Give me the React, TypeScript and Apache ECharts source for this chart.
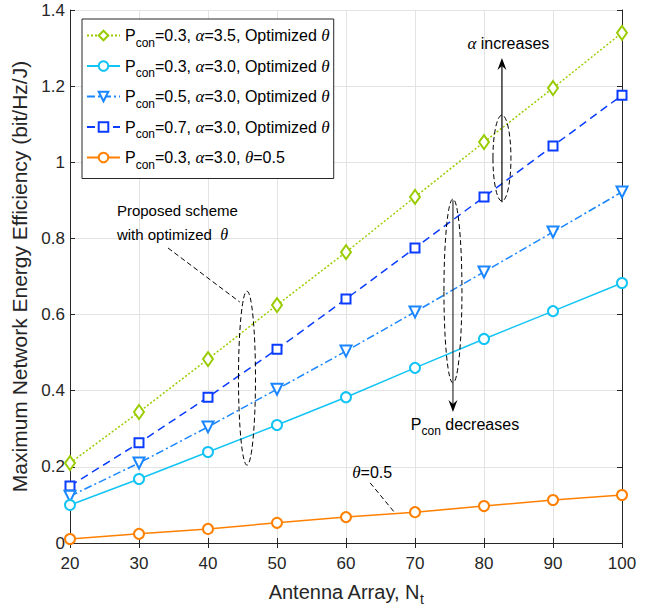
import React, { useEffect, useRef } from "react";
import * as echarts from "echarts";

const antennas = [20, 30, 40, 50, 60, 70, 80, 90, 100];
const eeAlpha35 = [0.21, 0.344, 0.483, 0.625, 0.764, 0.909, 1.053, 1.195, 1.34];
const eeP03 = [0.1, 0.168, 0.239, 0.31, 0.383, 0.46, 0.536, 0.609, 0.683];
const eeP05 = [0.123, 0.21, 0.305, 0.404, 0.504, 0.607, 0.712, 0.817, 0.922];
const eeP07 = [0.15, 0.263, 0.383, 0.509, 0.641, 0.775, 0.909, 1.043, 1.176];
const eeFixedTheta = [0.0105, 0.024, 0.037, 0.053, 0.068, 0.081, 0.097, 0.113, 0.126];

const seriesNames = ["s1", "s2", "s3", "s4", "s5"];
const legendRich = [
  "{p|P}{s|con}{t|=0.3, }{g|α}{t|=3.5, Optimized }{g|θ}",
  "{p|P}{s|con}{t|=0.3, }{g|α}{t|=3.0, Optimized }{g|θ}",
  "{p|P}{s|con}{t|=0.5, }{g|α}{t|=3.0, Optimized }{g|θ}",
  "{p|P}{s|con}{t|=0.7, }{g|α}{t|=3.0, Optimized }{g|θ}",
  "{p|P}{s|con}{t|=0.3, }{g|α}{t|=3.0, }{g|θ}{t|=0.5}",
];
const colors = ["#99cc00", "#12c4f4", "#1a86ff", "#0a3cff", "#ff8000"];

const SANS = "Liberation Sans";
const SERIF = "Liberation Serif";
const INK = "#262626";

function pairs(ys: number[]) {
  return antennas.map((x, i) => [x, ys[i]]);
}

export default function App() {
  const ref = useRef<HTMLDivElement>(null);
  useEffect(() => {
    if (!ref.current) return;
    const chart = echarts.init(ref.current, null, { renderer: "svg" });
    const richText = (size: number) => ({
      p: { fontSize: size, fontFamily: SANS, color: "#000", lineHeight: 26 },
      t: { fontSize: size, fontFamily: SANS, color: "#000", lineHeight: 26 },
      g: { fontSize: size + 1, fontFamily: SERIF, fontStyle: "italic", color: "#000", lineHeight: 26 },
      s: { fontSize: size - 4, fontFamily: SANS, color: "#000", verticalAlign: "bottom", lineHeight: 14 },
    });
    const axisCommon = {
      type: "value" as const,
      axisLine: { show: true, lineStyle: { color: INK, width: 1 } },
      axisTick: { show: true, inside: true, length: 5, lineStyle: { color: INK } },
    };
    const mk = (i: number, data: number[], symbol: string, size: any, lineType: any, rotate = 0) => ({
      name: seriesNames[i],
      type: "line",
      data: pairs(data),
      symbol,
      symbolSize: size,
      symbolRotate: rotate,
      showAllSymbol: true,
      lineStyle: { color: colors[i], width: 1.5, type: lineType },
      itemStyle: { color: colors[i], borderColor: colors[i], borderWidth: 1.5 },
      emphasis: { disabled: true },
      z: 5 - i,
    });
    chart.setOption({
      animation: false,
      backgroundColor: "#fff",
      grid: { left: 70, right: 40, top: 10, bottom: 61, containLabel: false },
      legend: {
        orient: "vertical",
        left: 82,
        top: 19,
        itemWidth: 33,
        itemHeight: 12,
        itemGap: 9,
        padding: [8, 4, 8, 4],
        borderColor: INK,
        borderWidth: 1,
        backgroundColor: "#fff",
        data: seriesNames,
        formatter: (name: string) => legendRich[seriesNames.indexOf(name)],
        textStyle: { rich: richText(16) },
        selectedMode: false,
      },
      xAxis: [
        {
          ...axisCommon,
          min: 20,
          max: 100,
          interval: 10,
          position: "bottom",
          axisLabel: { fontSize: 17, color: INK, fontFamily: SANS, margin: 12 },
          splitLine: { show: true, lineStyle: { color: "#e3e3e3", width: 1 } },
          name: "{a|Antenna Array, N}{s|t}",
          nameLocation: "middle",
          nameGap: 35,
          nameTextStyle: {
            rich: {
              a: { fontSize: 20, fontFamily: SANS, color: INK, lineHeight: 28 },
              s: { fontSize: 14, fontFamily: SANS, color: INK, verticalAlign: "bottom", lineHeight: 16 },
            },
          },
        },
        {
          ...axisCommon,
          min: 20,
          max: 100,
          interval: 10,
          position: "top",
          axisLabel: { show: false },
          splitLine: { show: false },
        },
      ],
      yAxis: [
        {
          ...axisCommon,
          min: 0,
          max: 1.4,
          interval: 0.2,
          position: "left",
          axisLabel: { fontSize: 17, color: INK, fontFamily: SANS, margin: 5 },
          splitLine: { show: true, lineStyle: { color: "#e3e3e3", width: 1 } },
          name: "Maximum Network Energy Efficiency (bit/Hz/J)",
          nameLocation: "middle",
          nameGap: 39,
          nameTextStyle: { fontSize: 21, fontFamily: SANS, color: INK },
        },
        {
          ...axisCommon,
          min: 0,
          max: 1.4,
          interval: 0.2,
          position: "right",
          axisLabel: { show: false },
          splitLine: { show: false },
        },
      ],
      series: [
        mk(0, eeAlpha35, "emptyDiamond", [10, 14], [2, 2]),
        mk(1, eeP03, "emptyCircle", 10, "solid"),
        mk(2, eeP05, "emptyTriangle", 11, [8, 3, 2, 3], 180),
        mk(3, eeP07, "emptyRect", 9, [8, 5]),
        mk(4, eeFixedTheta, "emptyCircle", 10, "solid"),
      ],
    });

    const P = (x: number, y: number) => chart.convertToPixel({ xAxisIndex: 0, yAxisIndex: 0 }, [x, y]) as number[];
    const dashed = { fill: "none", stroke: "#000", lineWidth: 1, lineDash: [5, 3] };
    const ellipse = (x: number, y: number, rx: number, ry: number) => {
      const [cx, cy] = P(x, y);
      return { type: "ellipse", shape: { cx, cy, rx, ry }, style: dashed, z: 20 };
    };
    const line = (a: number[], b: number[], style: any) => {
      const [x1, y1] = P(a[0], a[1]);
      const [x2, y2] = P(b[0], b[1]);
      return { type: "line", shape: { x1, y1, x2, y2 }, style, z: 20 };
    };
    const head = (x: number, y: number, dir: number) => {
      const [tx, ty] = P(x, y);
      return {
        type: "polygon",
        shape: { points: [[tx, ty], [tx - 4.5, ty + dir * 12], [tx, ty + dir * 8], [tx + 4.5, ty + dir * 12]] },
        style: { fill: "#000" },
        z: 21,
      };
    };
    const text = (x: number, y: number, str: string, size: number) => {
      const [tx, ty] = P(x, y);
      return {
        type: "text",
        x: tx,
        y: ty,
        style: { text: str, rich: richText(size), verticalAlign: "middle", align: "left" },
        z: 22,
      };
    };
    const solid = { stroke: "#000", lineWidth: 1.2 };
    chart.setOption({
      graphic: [
        ellipse(82.6, 1.011, 9, 43),
        line([82.6, 0.895], [82.6, 1.26], solid),
        head(82.6, 1.274, 1),
        text(77.6, 1.313, "{g|α}{t| increases}", 16),
        ellipse(75.5, 0.662, 9, 92),
        line([75.5, 0.9], [75.5, 0.36], { stroke: "#333", lineWidth: 1.2 }),
        head(75.5, 0.344, -1),
        text(69.4, 0.312, "{p|P}{s|con}{t| decreases}", 16),
        ellipse(45.65, 0.433, 8.5, 87),
        line([34.2, 0.775], [44.6, 0.633], dashed),
        text(26.8, 0.874, "{t|Proposed scheme}", 15),
        text(26.8, 0.811, "{t|with optimized  }{g|θ}", 15),
        text(60.9, 0.184, "{g|θ}{t|=0.5}", 16),
        line([63.5, 0.158], [67.0, 0.081], dashed),
      ],
    });
    return () => chart.dispose();
  }, []);
  return <div ref={ref} style={{ position: "absolute", left: 0, top: 0, width: 662, height: 611 }} />;
}
